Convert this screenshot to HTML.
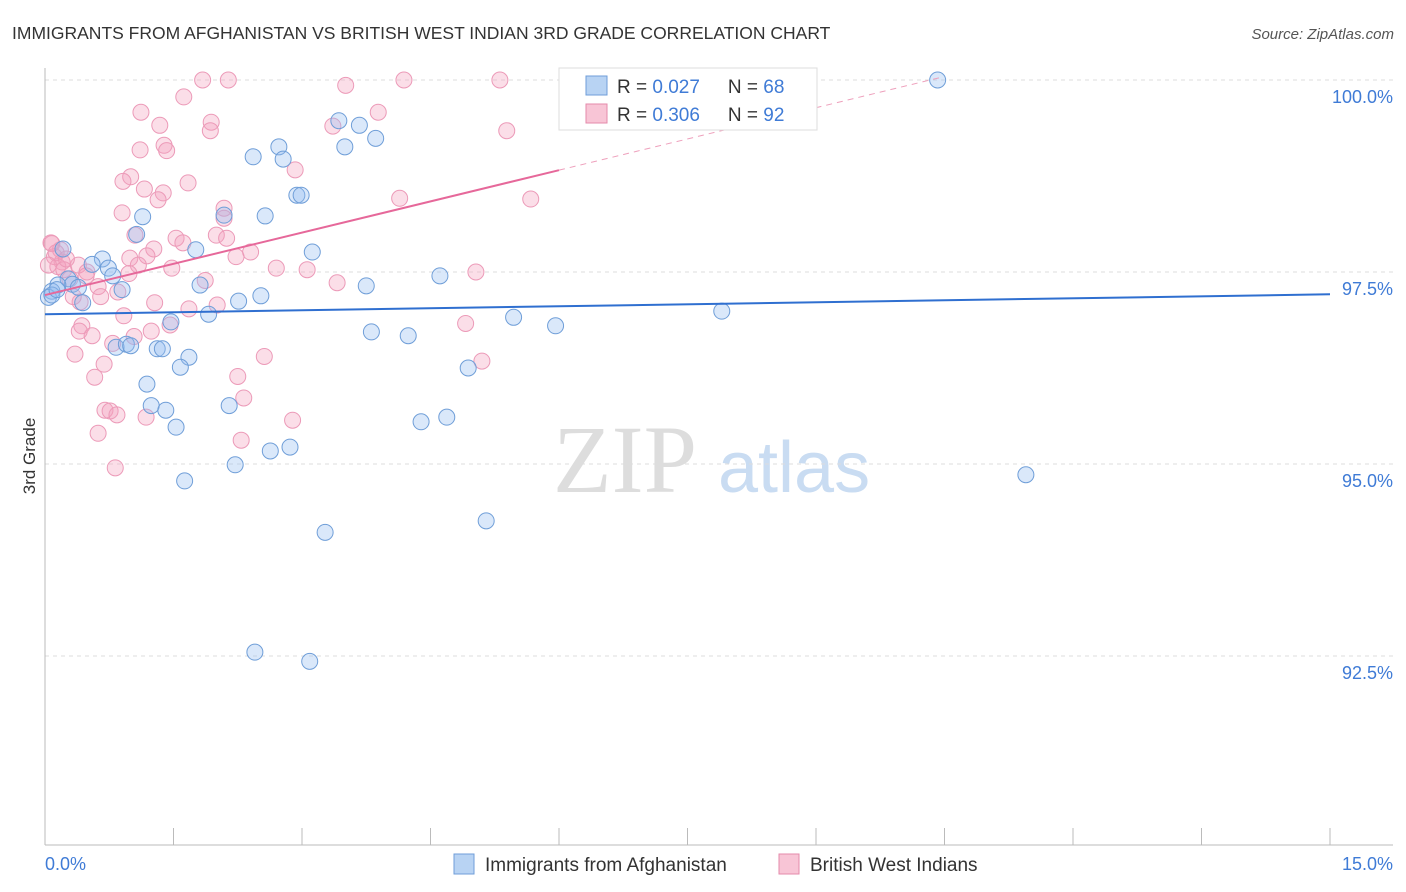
<!DOCTYPE html>
<html><head><meta charset="utf-8"><style>
body{margin:0;background:#fff;font-family:"Liberation Sans",sans-serif;}
#c{position:relative;width:1406px;height:892px;overflow:hidden;}
</style></head><body>
<div id="c">
<svg id="s" width="1406" height="892" xmlns="http://www.w3.org/2000/svg">
<text x="12" y="39" font-size="17.5" fill="#333">IMMIGRANTS FROM AFGHANISTAN VS BRITISH WEST INDIAN 3RD GRADE CORRELATION CHART</text>
<text x="1394" y="39" font-size="15" fill="#555" font-style="italic" text-anchor="end">Source: ZipAtlas.com</text>
<text x="35" y="456" font-size="17" fill="#333" text-anchor="middle" transform="rotate(-90 35 456)">3rd Grade</text>
<g><text x="553" y="492" font-size="96" fill="#ddd" font-family="Liberation Serif,serif">ZIP</text><text x="718" y="492" font-size="72" fill="#c9dcf2">atlas</text></g>
<g id="grid"></g><g id="axes"></g><g id="pts"></g><g id="trend"></g>
<g>
<rect x="559" y="68" width="258" height="62" fill="#fff" stroke="#ddd"/>
<rect x="586" y="76" width="21" height="19" fill="#b8d3f3" stroke="#6f9ed8"/>
<rect x="586" y="104" width="21" height="19" fill="#f8c5d6" stroke="#e58aab"/>
<text x="617" y="93" font-size="19" fill="#333">R = <tspan fill="#3f7bd6">0.027</tspan><tspan dx="28">N = </tspan><tspan fill="#3f7bd6">68</tspan></text>
<text x="617" y="121" font-size="19" fill="#333">R = <tspan fill="#3f7bd6">0.306</tspan><tspan dx="28">N = </tspan><tspan fill="#3f7bd6">92</tspan></text>
</g>
<g>
<rect x="454" y="854" width="20" height="20" fill="#b8d3f3" stroke="#6f9ed8"/>
<text x="485" y="871" font-size="19" fill="#333">Immigrants from Afghanistan</text>
<rect x="779" y="854" width="20" height="20" fill="#f8c5d6" stroke="#e58aab"/>
<text x="810" y="871" font-size="19" fill="#333">British West Indians</text>
</g>
</svg>
</div>
<script>
const blueX=[10.42,6.85,3.43,3.67,3.86,3.50,2.73,2.43,2.78,2.94,2.99,2.09,2.57,1.14,1.07,1.76,3.12,0.21,0.67,0.55,0.74,0.79,0.27,0.32,0.15,0.08,0.04,0.39,0.44,0.90,1.81,2.52,2.26,3.75,4.61,1.91,1.47,3.81,4.24,5.47,5.96,7.90,0.83,0.95,1.00,1.31,1.37,1.68,1.58,4.94,1.19,1.24,1.41,1.53,2.15,4.39,4.69,2.86,2.63,2.22,1.63,11.45,5.15,3.27,2.45,3.09,0.08,0.14];
const blueY=[100.0,100.0,99.47,99.41,99.24,99.13,99.13,99.00,98.97,98.50,98.50,98.24,98.23,98.22,97.99,97.79,97.76,97.80,97.67,97.60,97.55,97.45,97.41,97.34,97.33,97.25,97.17,97.30,97.10,97.27,97.33,97.19,97.12,97.32,97.45,96.95,96.85,96.72,96.67,96.91,96.80,96.99,96.52,96.56,96.54,96.50,96.50,96.39,96.26,96.25,96.04,95.76,95.70,95.48,95.76,95.55,95.61,95.22,95.17,94.99,94.78,94.86,94.26,94.11,92.55,92.43,97.20,97.27];
const pinkX=[1.84,2.14,4.19,5.31,3.51,1.62,1.12,3.89,1.34,1.94,3.36,5.39,1.93,1.39,1.11,1.42,2.92,1.00,0.91,1.67,1.16,1.38,1.32,4.14,5.67,0.90,2.09,2.09,1.05,1.53,1.61,2.00,2.12,0.07,0.18,1.27,2.40,1.19,2.23,0.11,0.20,0.99,1.09,0.15,1.48,2.70,3.06,5.03,0.22,0.39,0.49,0.98,1.87,3.41,0.62,0.85,1.28,2.01,1.68,0.92,0.41,0.43,1.46,1.24,4.91,0.40,0.55,0.79,1.04,0.35,2.56,0.69,5.10,0.58,2.25,2.32,0.70,0.76,0.84,1.18,2.89,0.62,2.29,0.82,0.08,0.13,0.25,0.29,0.04,0.48,0.33,0.65];
const pinkY=[100.0,100.0,100.0,100.0,99.93,99.78,99.58,99.58,99.41,99.45,99.40,99.34,99.34,99.15,99.09,99.08,98.83,98.74,98.68,98.66,98.58,98.53,98.44,98.46,98.45,98.27,98.33,98.20,97.98,97.94,97.88,97.98,97.94,97.88,97.79,97.80,97.76,97.71,97.70,97.70,97.63,97.68,97.59,97.57,97.55,97.55,97.53,97.50,97.53,97.59,97.50,97.48,97.39,97.36,97.31,97.24,97.10,97.07,97.02,96.93,97.11,96.80,96.81,96.73,96.83,96.73,96.67,96.57,96.66,96.43,96.40,96.30,96.34,96.13,96.14,95.86,95.70,95.69,95.64,95.61,95.57,95.40,95.31,94.95,97.87,97.75,97.67,97.41,97.59,97.45,97.18,97.18];
const yTicks=[100.0,97.5,95.0,92.5];
const yTickLabels=["100.0%","97.5%","95.0%","92.5%"];
const xTicks=[0,1.5,3,4.5,6,7.5,9,10.5,12,13.5,15];
const blueTrend=[96.95,0.0173];
const pinkTrend=[97.2,0.271,6.0,10.45];
const NS="http://www.w3.org/2000/svg";
const X=v=>45+v*(1285/15);
const Y=v=>80+(100-v)*76.8;
function mk(tag,attrs,parent){const e=document.createElementNS(NS,tag);for(const k in attrs)e.setAttribute(k,attrs[k]);document.getElementById(parent).appendChild(e);return e;}
yTicks.forEach((t,i)=>{
 const l=mk('line',{x1:45,x2:1393,y1:Y(t),y2:Y(t),stroke:'#ddd','stroke-dasharray':'4,4'},'grid');
 
 
 const tx=mk('text',{x:1393,y:Y(t)+23,'font-size':18,fill:'#3f7bd6','text-anchor':'end'},'grid');
 tx.textContent=yTickLabels[i];
 
 
});
const ax=mk('line',{x1:45,x2:1393,y1:845,y2:845,stroke:'#bbb'},'axes');


const ay=mk('line',{x1:45,x2:45,y1:68,y2:845,stroke:'#bbb'},'axes');


xTicks.forEach(t=>{const l=mk('line',{x1:X(t),x2:X(t),y1:828,y2:845,stroke:'#bbb'},'axes');
 
 });
const xl0=mk('text',{x:45,y:870,'font-size':18,fill:'#3f7bd6'},'axes');xl0.textContent=xTicks[0].toFixed(1)+'%';


const xl1=mk('text',{x:1393,y:870,'font-size':18,fill:'#3f7bd6','text-anchor':'end'},'axes');xl1.textContent=xTicks[xTicks.length-1].toFixed(1)+'%';


pinkX.forEach((x,i)=>{const c=mk('circle',{cx:X(x),cy:Y(pinkY[i]),r:8,fill:'rgba(244,160,190,0.35)',stroke:'#ec9ab8','stroke-width':1},'pts');
 
 });
blueX.forEach((x,i)=>{const c=mk('circle',{cx:X(x),cy:Y(blueY[i]),r:8,fill:'rgba(150,190,240,0.35)',stroke:'#6f9ed8','stroke-width':1},'pts');
 
 });
const bt=mk('line',{x1:X(0),y1:Y(blueTrend[0]),x2:X(15),y2:Y(blueTrend[0]+15*blueTrend[1]),stroke:'#2f6fd0','stroke-width':2},'trend');


const pt=mk('line',{x1:X(0),y1:Y(pinkTrend[0]),x2:X(pinkTrend[2]),y2:Y(pinkTrend[0]+pinkTrend[2]*pinkTrend[1]),stroke:'#e6689a','stroke-width':2},'trend');


const pd=mk('line',{x1:X(pinkTrend[2]),y1:Y(pinkTrend[0]+pinkTrend[2]*pinkTrend[1]),x2:X(pinkTrend[3]),y2:Y(pinkTrend[0]+pinkTrend[3]*pinkTrend[1]),stroke:'#eea0bc','stroke-width':1,'stroke-dasharray':'6,5'},'trend');


</script>
</body></html>
